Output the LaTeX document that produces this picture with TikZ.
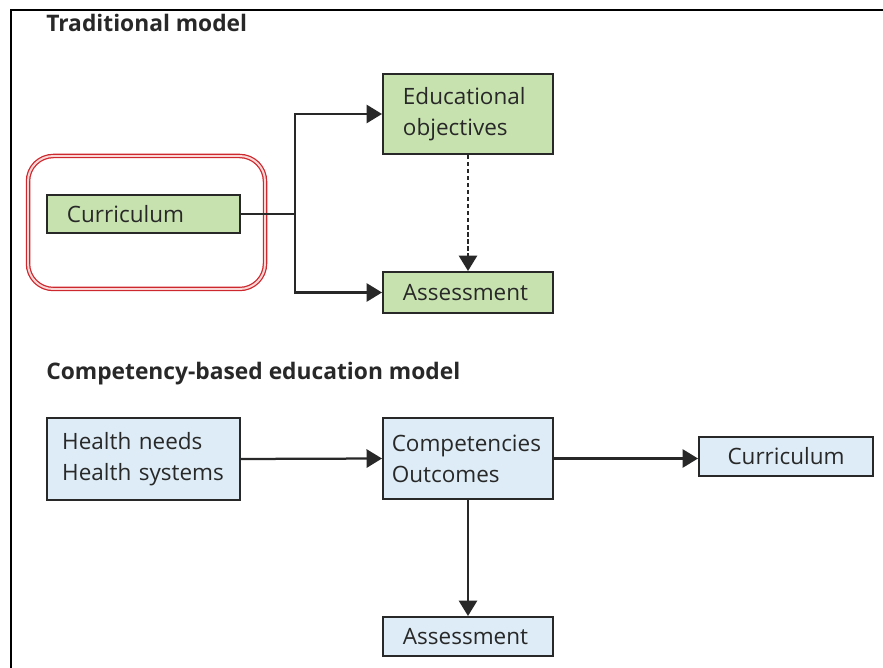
\documentclass[tikz,border=0pt]{standalone}
\usepackage{fontspec}
\setmainfont{Open Sans}
\usepackage{tikz}
\usetikzlibrary{arrows.meta}
\definecolor{boxgreen}{RGB}{199,226,175}
\definecolor{boxblue}{RGB}{221,236,246}
\definecolor{inkgray}{RGB}{40,40,40}
\definecolor{ringred}{RGB}{205,40,45}
\definecolor{ringpink}{RGB}{250,215,215}

\begin{document}
\begin{tikzpicture}[
    x=0.025cm, y=-0.025cm,
    leg/.style={
      line width=1.6pt,
      draw=inkgray,
      -{Triangle[length=11pt, width=13pt]}
    },
    stage/.style={
      draw=inkgray,
      line width=1.4pt,
      text=inkgray,
      font=\fontsize{16}{22}\selectfont,
      inner ysep=2pt,
      align=left,
      rectangle
    },
    heading/.style={
      anchor=base west,
      text=inkgray,
      inner sep=0pt,
      font=\bfseries\fontsize{16.2}{19}\selectfont
    },
    highlight/.style={
      draw=ringred,
      line width=0.9pt,
      double=ringpink,
      double distance=1.4pt,
      rounded corners=18pt
    }
  ]
  \useasboundingbox (0,0) rectangle (883,668);
  \draw[line width=1.6pt] (11,668) -- (11,10) -- (883,10);

  % traditional model
  \node[heading] (title1) at (46,32) {Traditional model};
  \draw[highlight] (28,156) rectangle (265,289);

  \node[stage, fill=boxgreen, inner xsep=0.5cm, text width=3.825cm,
        minimum height=0.95cm] (cur1) at (143.5,214) {Curriculum};
  \node[stage, fill=boxgreen, inner xsep=0.5cm, text width=3.25cm,
        minimum height=2cm] (edu) at (468,114) {Educational\\objectives};
  \node[stage, fill=boxgreen, inner xsep=0.5cm, text width=3.25cm,
        minimum height=1.025cm] (ass1) at (468,292.5) {Assessment};

  \coordinate (split) at (295,214);
  \draw[line width=1.6pt, draw=inkgray] (cur1.east) -- (split);
  \draw[leg] (split) |- (edu.west);
  \draw[leg] (split) |- (ass1.west);
  \draw[leg, dash pattern=on 3pt off 2pt] (edu.south) -- (ass1.north);

  % competency-based model
  \node[heading] (title2) at (46,380) {Competency-based education model};

  \node[stage, fill=boxblue, inner xsep=0.38cm, text width=4.065cm,
        minimum height=2.05cm] (needs) at (143.5,459) {Health needs\\Health systems};
  \node[stage, fill=boxblue, inner xsep=0.22cm, text width=3.81cm,
        minimum height=2.025cm] (comp) at (468,458.5) {Competencies\\Outcomes};
  \node[stage, fill=boxblue, align=center, minimum width=4.35cm,
        minimum height=0.975cm] (cur2) at (786,456.5) {Curriculum};
  \node[stage, fill=boxblue, inner xsep=0.5cm, text width=3.25cm,
        minimum height=0.975cm] (ass2) at (468,636.5) {Assessment};

  \draw[leg] (needs.east) -- (comp.west);
  \draw[leg] (comp.east) -- (comp.east -| cur2.west);
  \draw[leg] (comp.south) -- (ass2.north);

\end{tikzpicture}
\end{document}
